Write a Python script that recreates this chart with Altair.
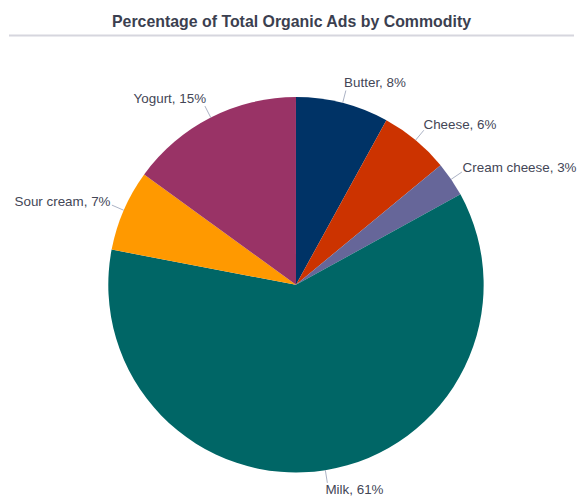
import math
import altair as alt
import pandas as pd

categories = ["Butter", "Cheese", "Cream cheese", "Milk", "Sour cream", "Yogurt"]
shares = [8, 6, 3, 61, 7, 15]
colors = ["#003366", "#CC3300", "#666699", "#006666", "#FF9900", "#993366"]

W, H = 569, 459
CX, CY = 289, 256
R = 189
FS = 13.5
LEAD = 13

total = sum(shares)
rows = []
cum = 0
for i, (c, s) in enumerate(zip(categories, shares)):
    mid = (cum + s / 2) / total * 2 * math.pi
    cum += s
    sa, ca = math.sin(mid), math.cos(mid)
    sign = 1 if sa >= 0 else -1
    x0, y0 = CX + R * sa, CY - R * ca
    x1, y1 = CX + (R + LEAD) * sa, CY - (R + LEAD) * ca
    rows.append(dict(
        category=c, share=s, order=i, label=f"{c}, {s}%",
        x0=x0, y0=y0, x1=x1, y1=y1,
        tx=x1 + sign * (2 - 4 * ca * ca),
        ty=y1 - 0.55 * FS * ca,
        side="right" if sa >= 0 else "left",
    ))
df = pd.DataFrame(rows)

pie = alt.Chart(df).mark_arc(outerRadius=R).encode(
    theta=alt.Theta("share:Q", stack=True),
    color=alt.Color("category:N", scale=alt.Scale(domain=categories, range=colors), legend=None),
    order=alt.Order("order:Q"),
    x=alt.value(CX),
    y=alt.value(CY),
)

leaders = alt.Chart(df).mark_rule(color="#aab1c4", strokeWidth=1).encode(
    x=alt.X("x0:Q", scale=None, axis=None),
    y=alt.Y("y0:Q", scale=None, axis=None),
    x2="x1:Q",
    y2="y1:Q",
)

def labels(side, align):
    return alt.Chart(df).transform_filter(alt.datum.side == side).mark_text(
        align=align, baseline="middle", fontSize=FS, font="Liberation Sans", color="#434656"
    ).encode(
        x=alt.X("tx:Q", scale=None, axis=None),
        y=alt.Y("ty:Q", scale=None, axis=None),
        text="label:N",
    )

sep = alt.Chart(pd.DataFrame({"a": [0]})).mark_rule(color="#d6d6de", strokeWidth=2).encode(
    x=alt.value(0), x2=alt.value(W), y=alt.value(5)
)

chart = alt.layer(sep, pie, leaders, labels("right", "left"), labels("left", "right")).properties(
    width=W, height=H,
    title=alt.TitleParams("Percentage of Total Organic Ads by Commodity", fontSize=16,
                          font="Liberation Sans", fontWeight="bold", color="#3b3f50",
                          anchor="middle", offset=1),
    padding={"top": 4, "left": 0, "right": 0, "bottom": 0},
).configure_view(stroke=None)

chart.save("out.html", embed_options={"renderer": "svg", "actions": False})
